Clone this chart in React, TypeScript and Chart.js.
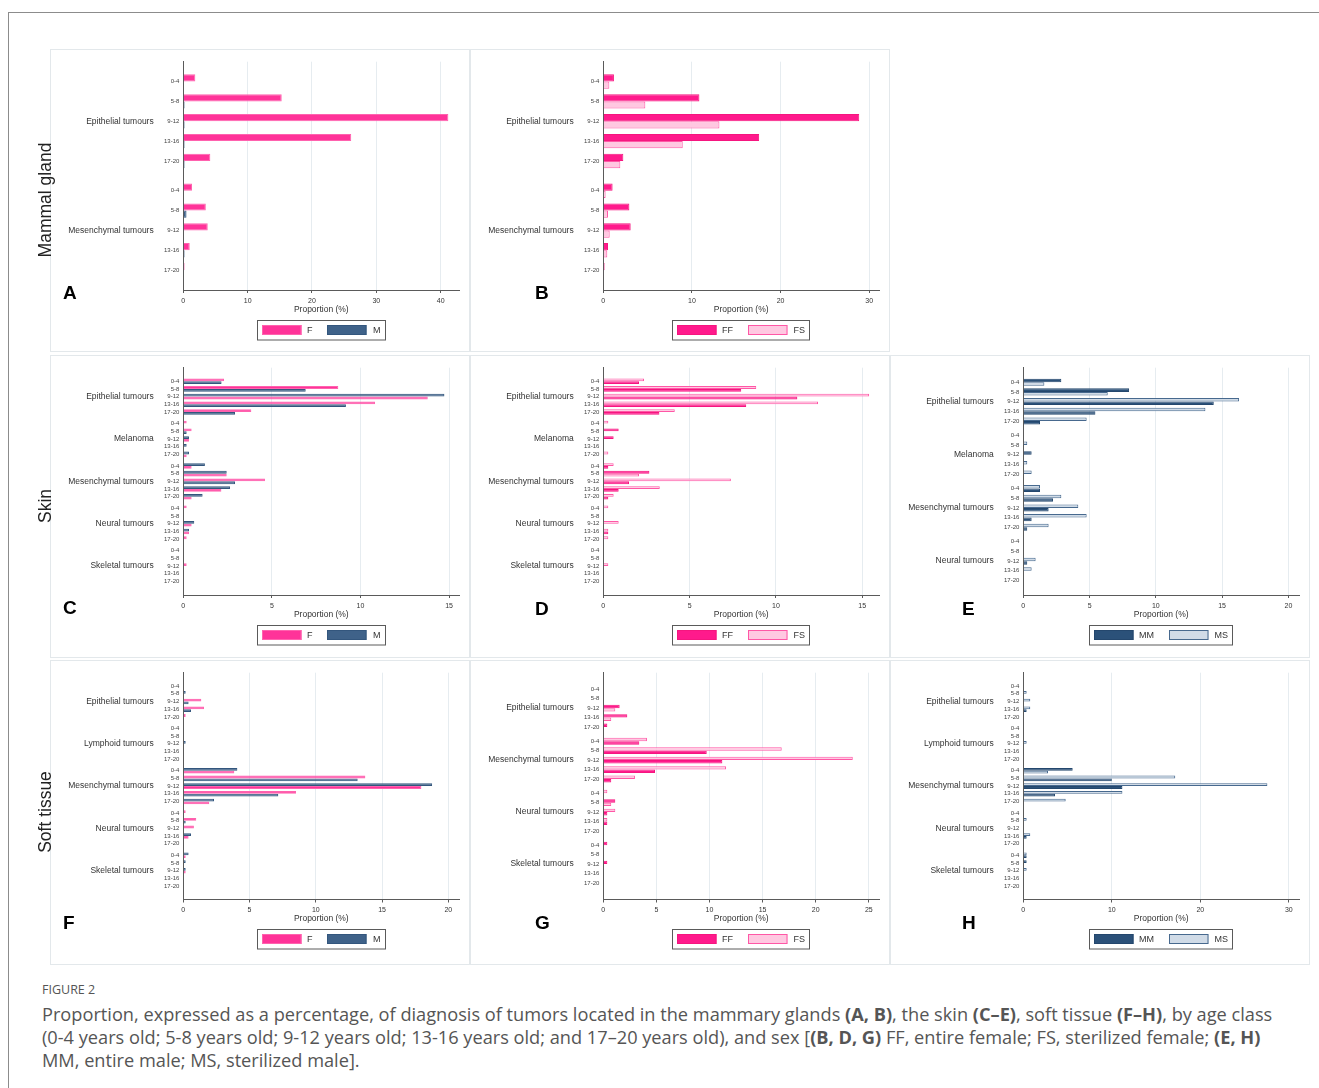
import React, { useEffect, useRef } from "react";
import { Chart, registerables } from "chart.js";

Chart.register(...registerables);

const FONT = "'Liberation Sans', Arial, Helvetica, sans-serif";
const CAPTION_FONT = "'Open Sans', 'Noto Sans', sans-serif";
Chart.defaults.font.family = FONT;
Chart.defaults.color = "#333";

// ---------------- data ----------------
const AGE_CLASSES = ["0-4", "5-8", "9-12", "13-16", "17-20"];

const MAMMARY_GROUPS = ["Epithelial tumours", "Mesenchymal tumours"];
const SKIN_GROUPS_CD = ["Epithelial tumours", "Melanoma", "Mesenchymal tumours", "Neural tumours", "Skeletal tumours"];
const SKIN_GROUPS_E = ["Epithelial tumours", "Melanoma", "Mesenchymal tumours", "Neural tumours"];
const SOFT_GROUPS_FH = ["Epithelial tumours", "Lymphoid tumours", "Mesenchymal tumours", "Neural tumours", "Skeletal tumours"];
const SOFT_GROUPS_G = ["Epithelial tumours", "Mesenchymal tumours", "Neural tumours", "Skeletal tumours"];

const SEX_LABELS = ["F", "M"];
const FEMALE_LABELS = ["FF", "FS"];
const MALE_LABELS = ["MM", "MS"];

// A — mammary gland, by sex
const A_F = [1.87, 15.3, 41.2, 26.1, 4.2, 1.35, 3.5, 3.8, 1.0, 0.2];
const A_M = [0, 0.2, 0.2, 0.2, 0.2, 0, 0.5, 0, 0.2, 0.1];
// B — mammary gland, females
const B_FF = [1.2, 10.84, 28.87, 17.58, 2.26, 1.05, 2.94, 3.09, 0.53, 0.15];
const B_FS = [0.68, 4.74, 13.1, 8.96, 1.92, 0.26, 0.53, 0.72, 0.45, 0.08];
// C — skin, by sex
const C_F = [2.3, 8.75, 13.8, 10.82, 3.84, 0.19, 0.47, 0.32, 0, 0.19, 0.47, 2.45, 4.61, 2.15, 0.47, 0.19, 0, 0.47, 0.32, 0.19, 0, 0, 0.19, 0, 0];
const C_M = [2.16, 6.91, 14.74, 9.18, 2.92, 0, 0.19, 0.32, 0.19, 0.32, 1.22, 2.45, 2.92, 2.64, 1.09, 0, 0, 0.62, 0.32, 0, 0, 0, 0, 0, 0];
// D — skin, females
const D_FF = [2.07, 7.99, 11.24, 8.28, 3.25, 0, 0.89, 0.6, 0, 0, 0.29, 2.67, 1.49, 0.89, 0.29, 0, 0, 0, 0.29, 0, 0, 0, 0, 0, 0];
const D_FS = [2.36, 8.86, 15.4, 12.44, 4.14, 0.29, 0, 0, 0, 0.29, 0.6, 2.07, 7.39, 3.27, 0.6, 0.29, 0, 0.89, 0.29, 0.29, 0, 0, 0.29, 0, 0];
// E — skin, males
const E_MM = [2.87, 7.98, 14.37, 5.44, 1.26, 0, 0, 0.63, 0, 0, 1.26, 2.24, 1.91, 0.63, 0.3, 0, 0, 0.3, 0, 0];
const E_MS = [1.59, 6.37, 16.28, 13.74, 4.78, 0, 0.3, 0, 0.3, 0.63, 1.26, 2.87, 4.15, 4.78, 1.91, 0, 0, 0.93, 0.63, 0];
// F — soft tissue, by sex
const F_F = [0, 0, 1.36, 1.56, 0.18, 0, 0, 0, 0, 0, 3.85, 13.74, 17.97, 8.51, 1.96, 0.18, 0.98, 0.8, 0.4, 0, 0.18, 0, 0.18, 0, 0];
const F_M = [0, 0.18, 0.4, 0.58, 0, 0, 0, 0.18, 0, 0, 4.08, 13.16, 18.78, 7.17, 2.32, 0, 0.18, 0, 0.58, 0, 0.4, 0.18, 0.18, 0, 0];
// G — soft tissue, females
const G_FF = [0, 0, 1.54, 2.26, 0.38, 3.39, 9.74, 11.21, 4.87, 0.75, 0, 1.13, 0.38, 0.38, 0, 0.38, 0, 0.38, 0, 0];
const G_FS = [0, 0, 1.13, 0.75, 0, 4.11, 16.8, 23.49, 11.56, 2.98, 0.38, 0.75, 1.13, 0.38, 0, 0, 0, 0, 0, 0];
// H — soft tissue, males
const H_MM = [0, 0, 0, 0.38, 0, 0, 0, 0, 0, 0, 5.58, 10.0, 11.2, 3.58, 0, 0, 0, 0, 0.38, 0, 0.38, 0.38, 0, 0, 0];
const H_MS = [0, 0.38, 0.79, 0.79, 0, 0, 0, 0.38, 0, 0, 2.79, 17.17, 27.58, 11.2, 4.79, 0, 0.38, 0, 0.79, 0, 0.38, 0, 0.38, 0, 0];

// x-axis ticks
const TICKS_10_40 = [0, 10, 20, 30, 40];
const TICKS_10_30 = [0, 10, 20, 30];
const TICKS_5_15 = [0, 5, 10, 15];
const TICKS_5_20 = [0, 5, 10, 15, 20];
const TICKS_5_25 = [0, 5, 10, 15, 20, 25];

// ---------------- styles ----------------
const STYLE: Record<string, { fill: string; line: string }> = {
  F: { fill: "#ff3399", line: "#ff62ae" },
  M: { fill: "#3f6289", line: "#33567d" },
  FF: { fill: "#ff1a8c", line: "#f5167f" },
  FS: { fill: "#ffc8e1", line: "#ff57a6" },
  MM: { fill: "#2b5179", line: "#24476d" },
  MS: { fill: "#d0dbe7", line: "#47698e" },
};

const COLS = [
  { left: 50, plotLeft: 183.3, plotRight: 459.3 },
  { left: 470, plotLeft: 603.3, plotRight: 879 },
  { left: 890, plotLeft: 1023.3, plotRight: 1299 },
];
const ROWS = [
  { top: 49, height: 303, plotTop: 60, axisY: 290 },
  { top: 355, height: 303, plotTop: 365, axisY: 595 },
  { top: 660, height: 305, plotTop: 670, axisY: 899.5 },
];
const CELL_W = 420;
const X_AXIS_H = 24.5;
const AGE_AXIS_W = 22;

type Series = { label: string; values: number[] };
type PanelSpec = {
  id: string;
  row: number;
  col: number;
  groups: string[];
  series: Series[];
  xMax: number;
  xTicks: number[];
  pad: number;
  offset: boolean;
};

const PANELS: PanelSpec[] = [
  { id: "A", row: 0, col: 0, groups: MAMMARY_GROUPS, series: [{ label: SEX_LABELS[0], values: A_F }, { label: SEX_LABELS[1], values: A_M }], xMax: 42.9, xTicks: TICKS_10_40, pad: 2, offset: false },
  { id: "B", row: 0, col: 1, groups: MAMMARY_GROUPS, series: [{ label: FEMALE_LABELS[0], values: B_FF }, { label: FEMALE_LABELS[1], values: B_FS }], xMax: 31.1, xTicks: TICKS_10_30, pad: 2, offset: false },
  { id: "C", row: 1, col: 0, groups: SKIN_GROUPS_CD, series: [{ label: SEX_LABELS[0], values: C_F }, { label: SEX_LABELS[1], values: C_M }], xMax: 15.58, xTicks: TICKS_5_15, pad: 3, offset: true },
  { id: "D", row: 1, col: 1, groups: SKIN_GROUPS_CD, series: [{ label: FEMALE_LABELS[0], values: D_FF }, { label: FEMALE_LABELS[1], values: D_FS }], xMax: 15.97, xTicks: TICKS_5_15, pad: 3, offset: true },
  { id: "E", row: 1, col: 2, groups: SKIN_GROUPS_E, series: [{ label: MALE_LABELS[0], values: E_MM }, { label: MALE_LABELS[1], values: E_MS }], xMax: 20.8, xTicks: TICKS_5_20, pad: 3, offset: false },
  { id: "F", row: 2, col: 0, groups: SOFT_GROUPS_FH, series: [{ label: SEX_LABELS[0], values: F_F }, { label: SEX_LABELS[1], values: F_M }], xMax: 20.83, xTicks: TICKS_5_20, pad: 3, offset: true },
  { id: "G", row: 2, col: 1, groups: SOFT_GROUPS_G, series: [{ label: FEMALE_LABELS[0], values: G_FF }, { label: FEMALE_LABELS[1], values: G_FS }], xMax: 25.96, xTicks: TICKS_5_25, pad: 3, offset: true },
  { id: "H", row: 2, col: 2, groups: SOFT_GROUPS_FH, series: [{ label: MALE_LABELS[0], values: H_MM }, { label: MALE_LABELS[1], values: H_MS }], xMax: 31.15, xTicks: TICKS_10_30, pad: 3, offset: true },
];

// ---------------- legend plugin (boxed legend under the plot) ----------------
const boxLegend = {
  id: "boxLegend",
  afterDraw(chart: any, _args: any, opts: any) {
    const items = opts && opts.items;
    if (!items || !items.length) return;
    const { ctx, chartArea } = chart;
    const boxW = 39.5, boxH = 10, padX = 4.5, padY = 5, gap = 6, itemGap = 15, h = 19.5;
    ctx.save();
    ctx.font = `9px ${FONT}`;
    const widths = items.map((it: any) => ctx.measureText(it.label).width);
    let total = padX * 2;
    widths.forEach((w: number, i: number) => {
      total += boxW + gap + w + (i > 0 ? itemGap : 0);
    });
    const left = Math.round((chartArea.left + chartArea.right) / 2 - total / 2);
    const top = Math.round(chartArea.bottom + opts.offsetY);
    ctx.lineWidth = 1;
    ctx.strokeStyle = "#5a5a5a";
    ctx.strokeRect(left + 0.5, top + 0.5, Math.round(total), h);
    let x = left + padX;
    items.forEach((it: any, i: number) => {
      const bx = Math.round(x);
      const by = top + padY;
      ctx.fillStyle = it.fill;
      ctx.fillRect(bx, by, boxW, boxH);
      ctx.strokeStyle = it.line;
      ctx.strokeRect(bx + 0.5, by + 0.5, boxW - 1, boxH - 1);
      ctx.fillStyle = "#333";
      ctx.textBaseline = "middle";
      ctx.textAlign = "left";
      ctx.fillText(it.label, x + boxW + gap, by + boxH / 2 + 0.5);
      x += boxW + gap + widths[i] + itemGap;
    });
    ctx.restore();
  },
};

// rows on a half-row category grid: rows 2 apart, groups 3 apart
function buildRows(groups: string[], pad: number) {
  const ageLabels: string[] = [];
  const groupLabels: string[] = [];
  const rowAt: number[] = [];
  const add = (a: string, g: string) => {
    ageLabels.push(a);
    groupLabels.push(g);
  };
  for (let i = 0; i < pad; i++) add("", "");
  groups.forEach((g, gi) => {
    if (gi > 0) {
      add("", "");
      add("", "");
    }
    AGE_CLASSES.forEach((a, ai) => {
      if (ai > 0) add("", "");
      rowAt.push(ageLabels.length);
      add(a, ai === 2 ? g : "");
    });
  });
  for (let i = 0; i < pad; i++) add("", "");
  return { ageLabels, groupLabels, rowAt };
}

function buildConfig(p: PanelSpec): any {
  const col = COLS[p.col];
  const row = ROWS[p.row];
  const { ageLabels, groupLabels, rowAt } = buildRows(p.groups, p.pad);
  const n = ageLabels.length;
  const upper: (number | null)[] = new Array(n).fill(null);
  const lower: (number | null)[] = new Array(n).fill(null);
  const upFill: string[] = new Array(n).fill("rgba(0,0,0,0)");
  const upLine: string[] = new Array(n).fill("rgba(0,0,0,0)");
  const loFill: string[] = new Array(n).fill("rgba(0,0,0,0)");
  const loLine: string[] = new Array(n).fill("rgba(0,0,0,0)");
  const [s1, s2] = p.series;
  rowAt.forEach((ci, r) => {
    const a = s1.values[r];
    const b = s2.values[r];
    const firstUp = a > b; // larger bar sits on top within each age row
    const su = firstUp ? s1 : s2;
    const sl = firstUp ? s2 : s1;
    const vu = firstUp ? a : b;
    const vl = firstUp ? b : a;
    upper[ci] = vu > 0 ? vu : null;
    lower[ci] = vl > 0 ? vl : null;
    upFill[ci] = STYLE[su.label].fill;
    upLine[ci] = STYLE[su.label].line;
    loFill[ci] = STYLE[sl.label].fill;
    loLine[ci] = STYLE[sl.label].line;
  });

  const common = {
    categoryPercentage: 1.45,
    barPercentage: 1,
    borderWidth: 1,
    yAxisID: "y",
    xAxisID: "x",
  };
  const groupAxisW = col.plotLeft - col.left - AGE_AXIS_W;

  return {
    type: "bar",
    data: {
      labels: ageLabels,
      datasets: [
        { ...common, label: "upper", data: upper, backgroundColor: upFill, borderColor: upLine },
        { ...common, label: "lower", data: lower, backgroundColor: loFill, borderColor: loLine },
      ],
    },
    options: {
      indexAxis: "y",
      responsive: false,
      maintainAspectRatio: false,
      animation: false,
      events: [],
      layout: {
        padding: {
          left: 0,
          top: row.plotTop - row.top,
          right: col.left + CELL_W - col.plotRight,
          bottom: row.height - (row.axisY - row.top) - X_AXIS_H,
        },
      },
      plugins: {
        legend: { display: false },
        tooltip: { enabled: false },
        boxLegend: {
          offsetY: 29.5,
          items: p.series.map((s) => ({ label: s.label, fill: STYLE[s.label].fill, line: STYLE[s.label].line })),
        },
      },
      scales: {
        x: {
          type: "linear",
          position: "bottom",
          min: 0,
          max: p.xMax,
          afterBuildTicks: (s: any) => {
            s.ticks = p.xTicks.map((v) => ({ value: v }));
          },
          afterFit: (s: any) => {
            s.height = X_AXIS_H;
          },
          ticks: { font: { size: 7, family: FONT }, color: "#333", padding: 3.5, maxRotation: 0, autoSkip: false },
          grid: { color: "#e6ecf0", lineWidth: 1, drawTicks: true, tickLength: 3, tickColor: "#5a5a5a" },
          border: { display: true, color: "#5a5a5a", width: 1 },
          title: {
            display: true,
            text: "Proportion (%)",
            font: { size: 8.5, family: FONT },
            color: "#333",
            padding: { top: 1, bottom: 0 },
          },
        },
        y: {
          type: "category",
          position: "left",
          labels: ageLabels,
          offset: p.offset,
          weight: 0,
          afterFit: (s: any) => {
            s.width = AGE_AXIS_W;
          },
          grid: { display: false, drawTicks: false, offset: p.offset },
          border: { display: true, color: "#5a5a5a", width: 1 },
          ticks: { autoSkip: false, font: { size: 6, family: FONT }, color: "#444", padding: 4 },
        },
        yGroup: {
          type: "category",
          position: "left",
          axis: "y",
          labels: groupLabels,
          offset: p.offset,
          weight: 1,
          afterFit: (s: any) => {
            s.width = groupAxisW;
          },
          grid: { display: false, drawTicks: false, offset: p.offset },
          border: { display: false },
          ticks: { autoSkip: false, font: { size: 8.5, family: FONT }, color: "#333", padding: 7.6 },
        },
      },
    },
    plugins: [boxLegend],
  };
}

function Panel({ spec }: { spec: PanelSpec }) {
  const ref = useRef<HTMLCanvasElement | null>(null);
  const col = COLS[spec.col];
  const row = ROWS[spec.row];
  useEffect(() => {
    if (!ref.current) return;
    const chart = new Chart(ref.current, buildConfig(spec));
    return () => chart.destroy();
  }, [spec]);
  return (
    <>
      <div
        style={{
          position: "absolute",
          left: col.left,
          top: row.top,
          width: CELL_W,
          height: row.height,
          border: "1px solid #e3e8eb",
          boxSizing: "border-box",
        }}
      />
      <canvas
        ref={ref}
        width={CELL_W}
        height={row.height}
        style={{ position: "absolute", left: col.left, top: row.top, width: CELL_W, height: row.height }}
      />
    </>
  );
}

const LETTERS = [
  { t: "A", x: 63, y: 282.5 },
  { t: "B", x: 535, y: 282.5 },
  { t: "C", x: 63, y: 597.5 },
  { t: "D", x: 535, y: 599 },
  { t: "E", x: 962, y: 599 },
  { t: "F", x: 63, y: 912.5 },
  { t: "G", x: 535, y: 913 },
  { t: "H", x: 962, y: 912.5 },
];

const ROW_TITLES = [
  { t: "Mammal gland", y: 200 },
  { t: "Skin", y: 506 },
  { t: "Soft tissue", y: 812 },
];

export default function App() {
  return (
    <div
      style={{
        position: "absolute",
        left: 0,
        top: 0,
        width: 1319,
        height: 1088,
        background: "#fff",
        overflow: "hidden",
        fontFamily: FONT,
      }}
    >
      <div
        style={{
          position: "absolute",
          left: 8,
          top: 12,
          width: 1330,
          height: 1100,
          borderTop: "1px solid #8c8c8c",
          borderLeft: "1px solid #8c8c8c",
        }}
      />
      {PANELS.map((p) => (
        <Panel key={p.id} spec={p} />
      ))}
      {LETTERS.map((l) => (
        <div
          key={l.t}
          style={{
            position: "absolute",
            left: l.x,
            top: l.y,
            fontSize: 19,
            lineHeight: "19px",
            fontWeight: 700,
            color: "#000",
          }}
        >
          {l.t}
        </div>
      ))}
      {ROW_TITLES.map((r) => (
        <div
          key={r.t}
          style={{
            position: "absolute",
            left: 45,
            top: r.y,
            fontSize: 17.5,
            lineHeight: "20px",
            color: "#222",
            whiteSpace: "nowrap",
            transform: "translate(-50%, -50%) rotate(-90deg)",
          }}
        >
          {r.t}
        </div>
      ))}
      <div
        style={{
          position: "absolute",
          left: 42,
          top: 982,
          fontSize: 12.5,
          lineHeight: "16px",
          color: "#555",
          whiteSpace: "nowrap",
          fontFamily: CAPTION_FONT,
        }}
      >
        FIGURE 2
      </div>
      <div
        style={{
          position: "absolute",
          left: 42,
          top: 1002.5,
          fontSize: 18.2,
          lineHeight: "23px",
          color: "#555",
          whiteSpace: "nowrap",
          fontFamily: CAPTION_FONT,
        }}
      >
        Proportion, expressed as a percentage, of diagnosis of tumors located in the mammary glands <b>(A, B)</b>, the skin{" "}
        <b>(C–E)</b>, soft tissue <b>(F–H)</b>, by age class
        <br />
        (0-4 years old; 5-8 years old; 9-12 years old; 13-16 years old; and 17–20 years old), and sex [<b>(B, D, G)</b> FF,
        entire female; FS, sterilized female; <b>(E, H)</b>
        <br />
        MM, entire male; MS, sterilized male].
      </div>
    </div>
  );
}
